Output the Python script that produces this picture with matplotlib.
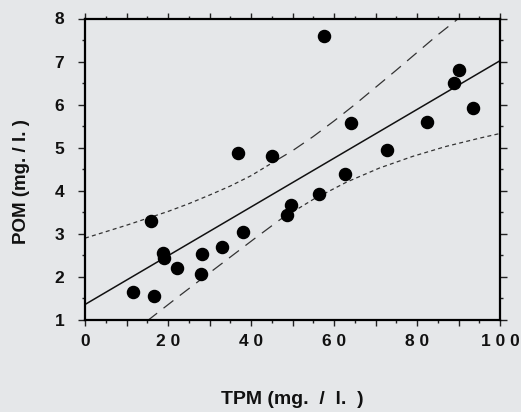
import matplotlib
matplotlib.use("Agg")
import matplotlib.pyplot as plt
from matplotlib.ticker import MultipleLocator

# Suspended matter samples
tpm = [11.6, 16.6, 15.8, 18.9, 19.0, 22.2, 28.1, 27.95, 32.9, 38.0, 36.9, 45.0,
       48.75, 49.6, 56.5, 57.6, 62.65, 64.0, 72.7, 82.3, 88.9, 90.2, 93.4]
pom = [1.65, 1.55, 3.29, 2.55, 2.45, 2.20, 2.53, 2.07, 2.70, 3.05, 4.87, 4.80,
       3.44, 3.68, 3.92, 7.60, 4.40, 5.58, 4.94, 5.60, 6.50, 6.81, 5.92]

# Fitted regression line (end points)
fit_x = [0, 100]
fit_y = [1.36, 7.02]

# Upper band: short dashes left of the mean, long dashes to the right
upper_left_x = [0, 5, 10, 15, 20, 25, 30, 35, 40, 46]
upper_left_y = [2.90, 3.05, 3.20, 3.36, 3.52, 3.70, 3.90, 4.11, 4.35, 4.70]
upper_right_x = [46, 50, 55, 60, 65, 70, 75, 80, 85, 90]
upper_right_y = [4.70, 4.93, 5.26, 5.62, 6.00, 6.40, 6.80, 7.21, 7.62, 8.00]

# Lower band: long dashes left of the mean, short dashes to the right
lower_left_x = [15, 23, 32, 41, 47]
lower_left_y = [0.98, 1.58, 2.24, 2.90, 3.33]
lower_right_x = [47, 55, 63, 71, 79, 87, 95, 100]
lower_right_y = [3.33, 3.80, 4.20, 4.53, 4.80, 5.03, 5.22, 5.33]

x_ticks = [0, 20, 40, 60, 80, 100]
x_ticklabels = ["0", "2 0", "4 0", "6 0", "8 0", "1 0 0"]
y_ticks = [1, 2, 3, 4, 5, 6, 7, 8]

bg = "#e5e7e9"
fig = plt.figure(figsize=(5.21, 4.12), dpi=100, facecolor=bg)
ax = fig.add_axes([85 / 521, 1 - 320 / 412, 415 / 521, 301.5 / 412], facecolor=bg)

ink = "#111111"
ax.plot(fit_x, fit_y, color=ink, lw=1.1, solid_capstyle="butt")
short = (3.2, 2.6)
long_ = (10, 6.5)
band = "#333333"
ax.plot(upper_left_x, upper_left_y, color=band, lw=0.9, dashes=short)
ax.plot(upper_right_x, upper_right_y, color=band, lw=0.9, dashes=long_)
ax.plot(lower_left_x, lower_left_y, color=band, lw=0.9, dashes=long_)
ax.plot(lower_right_x, lower_right_y, color=band, lw=0.9, dashes=short)

ax.plot(tpm, pom, "o", color="black", ms=8.7, mec="black", ls="none", zorder=5)

ax.set_xlim(0, 100)
ax.set_ylim(1, 8)

for s in ax.spines.values():
    s.set_linewidth(1.6)
    s.set_color("black")

ax.xaxis.set_major_locator(MultipleLocator(10))
ax.xaxis.set_minor_locator(MultipleLocator(5))
ax.yaxis.set_major_locator(MultipleLocator(1))
ax.yaxis.set_minor_locator(MultipleLocator(0.5))

labels = {v: l for v, l in zip(x_ticks, x_ticklabels)}
ax.xaxis.set_major_formatter(plt.FuncFormatter(lambda v, p: labels.get(int(round(v)), "")))
ax.yaxis.set_major_formatter(plt.FuncFormatter(lambda v, p: "%d" % v if v in y_ticks else ""))

ax.tick_params(which="both", direction="out", top=True, right=True, color="#222222")
ax.tick_params(which="major", length=4, width=1.0)
ax.tick_params(which="minor", length=2, width=1.0)
ax.tick_params(axis="y", which="major", length=5, pad=10)
ax.tick_params(axis="x", which="major", pad=6)
for lab in ax.get_xticklabels() + ax.get_yticklabels():
    lab.set_fontfamily("Liberation Sans")
    lab.set_fontweight("bold")
    lab.set_fontsize(12.5)
    lab.set_color("#111111")

ax.set_xlabel("TPM (mg.  /  l.  )", fontsize=14, fontweight="bold",
              family="Liberation Sans", color="#111111")
ax.set_ylabel("POM (mg. / l. )", fontsize=13.5, fontweight="bold",
              family="Liberation Sans", color="#111111")
ax.xaxis.set_label_coords(0.5, -0.235)
ax.yaxis.set_label_coords(-0.133, 0.46)

fig.savefig("out.png", dpi=100, facecolor=bg)
